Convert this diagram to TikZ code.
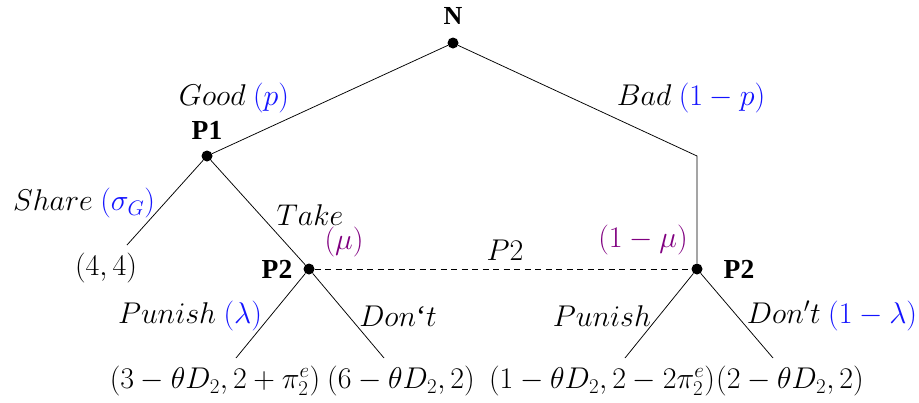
\RequirePackage{fix-cm}
\documentclass[tikz,border=0pt]{standalone}
\usepackage{fontspec}
\setmainfont{Liberation Serif}
\definecolor{pblue}{RGB}{20,20,255}
\definecolor{ppurple}{RGB}{128,0,128}
\begin{document}
\begin{tikzpicture}[x=1pt,y=-1pt,
  font=\fontsize{30}{34}\selectfont,
  bf/.style={font=\fontsize{27.5}{32}\selectfont\bfseries},
  dot/.style={circle,fill,inner sep=0pt,minimum size=11pt},
  lbl/.style={inner sep=0pt},
  edge/.style={line width=0.75pt},
  info/.style={line width=0.75pt,dash pattern=on 6pt off 4.5pt}]
\useasboundingbox (0,0) rectangle (919,402);
% decision nodes
\node[dot] (n) at (453,43) {};
\node[dot] (p1) at (207,156) {};
\coordinate (bc) at (697,156);
\node[dot] (p2l) at (309,269) {};
\node[dot] (p2r) at (697,269) {};
\coordinate (s) at (127,245);
\coordinate (a) at (236,358);
\coordinate (b) at (384,358);
\coordinate (c) at (625,358);
\coordinate (d) at (773,358);
% edges
\draw[edge] (n) -- (p1);
\draw[edge] (n) -- (bc) -- (p2r);
\draw[edge] (p1) -- (s);
\draw[edge] (p1) -- (p2l);
\draw[edge] (p2l) -- (a);
\draw[edge] (p2l) -- (b);
\draw[edge] (p2r) -- (c);
\draw[edge] (p2r) -- (d);
\draw[info] (p2l) -- (p2r);
% player labels
\node[lbl,font=\fontsize{26}{30}\selectfont\bfseries] (ln) at (453,16) {N};
\node[lbl,bf] (lp1) at (207,130) {P1};
\node[lbl,bf] (lp2l) at (277,269) {P2};
\node[lbl,bf] (lp2r) at (739,269) {P2};
% action labels
\node[lbl] (lgood) at (234,98) {$Good$ {\color{pblue}$(p)$}};
\node[lbl] (lbad) at (691,98) {$Bad$ {\color{pblue}$(1-p)$}};
\node[lbl] (lshare) at (84,203) {$Share$ {\color{pblue}$(\sigma_G)$}};
\node[lbl] (ltake) at (310,215) {$Take$};
\node[lbl] (lmu) at (344,242) {\color{ppurple}$(\mu)$};
\node[lbl] (lmu2) at (643,240) {\color{ppurple}$(1-\mu)$};
\node[lbl] (linfo) at (505,250) {$P2$};
\node[lbl] (lpun1) at (190,316) {$Punish$ {\color{pblue}$(\lambda)$}};
\node[lbl] (ldont1) at (398,316) {$Don`t$};
\node[lbl] (lpun2) at (602,316) {$Punish$};
\node[lbl] (ldont2) at (832,316) {$Don't$ {\color{pblue}$(1-\lambda)$}};
% payoffs
\node[lbl] (o1) at (106,268) {$(4,4)$};
\node[lbl] (o2) at (215,381) {$(3-\theta D_2,2+\pi_2^e)$};
\node[lbl] (o3) at (401,381) {$(6-\theta D_2,2)$};
\node[lbl] (o4) at (602,381) {$(1-\theta D_2,2-2\pi_2^e)$};
\node[lbl] (o5) at (790,381) {$(2-\theta D_2,2)$};
\end{tikzpicture}
\end{document}
